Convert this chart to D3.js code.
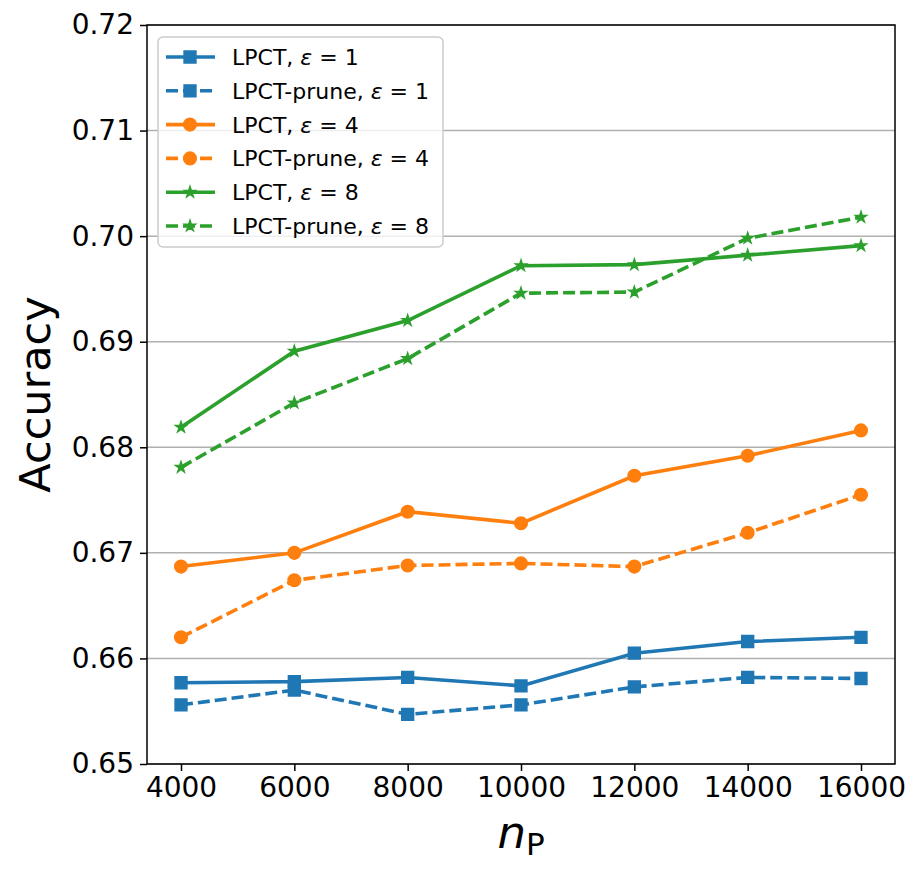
<!DOCTYPE html>
<html>
<head>
<meta charset="utf-8">
<script src="https://cdn.jsdelivr.net/npm/d3@7"></script>
<style>
  body { margin: 0; background: #fff; }
  svg { font-family: "DejaVu Sans", sans-serif; }
</style>
</head>
<body>
<div id="chart"></div>
<script>
// x values (n_P)
const nP = [4000, 6000, 8000, 10000, 12000, 14000, 16000];

// accuracy per series
const lpctEps1 = [0.6577, 0.6578, 0.6582, 0.6574, 0.6605, 0.6616, 0.6620];
const pruneEps1 = [0.6556, 0.6570, 0.6547, 0.6556, 0.6573, 0.6582, 0.6581];
const lpctEps4 = [0.6687, 0.6700, 0.6739, 0.6728, 0.6773, 0.6792, 0.6816];
const pruneEps4 = [0.6620, 0.6674, 0.6688, 0.6690, 0.6687, 0.6719, 0.6755];
const lpctEps8 = [0.6819, 0.6891, 0.6920, 0.6972, 0.6973, 0.6982, 0.6991];
const pruneEps8 = [0.6781, 0.6842, 0.6884, 0.6946, 0.6947, 0.6998, 0.7018];

const yTicks = [0.65, 0.66, 0.67, 0.68, 0.69, 0.70, 0.71, 0.72];

const series = [
    { name: 'LPCT', eps: 1, values: lpctEps1, color: '#1f77b4', dashed: false, marker: 'square' },
    { name: 'LPCT-prune', eps: 1, values: pruneEps1, color: '#1f77b4', dashed: true, marker: 'square' },
    { name: 'LPCT', eps: 4, values: lpctEps4, color: '#ff7f0e', dashed: false, marker: 'circle' },
    { name: 'LPCT-prune', eps: 4, values: pruneEps4, color: '#ff7f0e', dashed: true, marker: 'circle' },
    { name: 'LPCT', eps: 8, values: lpctEps8, color: '#2ca02c', dashed: false, marker: 'star' },
    { name: 'LPCT-prune', eps: 8, values: pruneEps8, color: '#2ca02c', dashed: true, marker: 'star' }
];

const width = 920, height = 873;
const margin = { top: 25, right: 25, bottom: 109, left: 147 };
const innerW = width - margin.left - margin.right;
const innerH = height - margin.top - margin.bottom;

const svg = d3.select('#chart').append('svg')
    .attr('width', width)
    .attr('height', height);

const g = svg.append('g')
    .attr('transform', `translate(${margin.left},${margin.top})`);

// matplotlib-style 5% padding on x
const xPad = (d3.max(nP) - d3.min(nP)) * 0.05;
const x = d3.scaleLinear()
    .domain([d3.min(nP) - xPad, d3.max(nP) + xPad])
    .range([0, innerW]);

const y = d3.scaleLinear()
    .domain([0.65, 0.72])
    .range([innerH, 0]);

// horizontal grid
g.append('g')
    .selectAll('line')
    .data(yTicks)
    .enter().append('line')
    .attr('x1', 0)
    .attr('x2', innerW)
    .attr('y1', d => y(d))
    .attr('y2', d => y(d))
    .style('stroke', '#b0b0b0')
    .style('stroke-width', '1.5px');

// axes
const xAxis = g.append('g')
    .attr('transform', `translate(0,${innerH})`)
    .call(d3.axisBottom(x).tickValues(nP).tickFormat(d3.format('d')).tickSize(7).tickPadding(6));

const yAxis = g.append('g')
    .call(d3.axisLeft(y).tickValues(yTicks).tickFormat(d3.format('.2f')).tickSize(7).tickPadding(6));

[xAxis, yAxis].forEach(ax => {
    ax.select('.domain').remove();
    ax.selectAll('.tick line').style('stroke', '#000').style('stroke-width', '1.5px');
    ax.selectAll('text')
        .style('fill', '#000')
        .style('font-size', '28px')
        .style('font-family', '"DejaVu Sans", sans-serif');
});

// frame
g.append('rect')
    .attr('width', innerW)
    .attr('height', innerH)
    .style('fill', 'none')
    .style('stroke', '#000')
    .style('stroke-width', '1.5px');

function markerPath(type) {
    if (type === 'square') return d3.symbol(d3.symbolSquare, 140)();
    if (type === 'circle') return d3.symbol(d3.symbolCircle, 125)();
    return d3.symbol(d3.symbolStar, 36)();
}

const line = d3.line()
    .x((d, i) => x(nP[i]))
    .y(d => y(d));

svg.append('defs').append('clipPath').attr('id', 'plot-clip')
    .append('rect').attr('x', -10).attr('y', -10).attr('width', innerW + 20).attr('height', innerH + 20);

series.forEach(s => {
    const sg = g.append('g').attr('clip-path', 'url(#plot-clip)');
    sg.append('path')
        .datum(s.values)
        .attr('d', line)
        .style('fill', 'none')
        .style('stroke', s.color)
        .style('stroke-width', '3.6px')
        .style('stroke-dasharray', s.dashed ? '12,5' : null);

    sg.selectAll('.marker')
        .data(s.values)
        .enter().append('path')
        .attr('class', 'marker')
        .attr('transform', (d, i) => `translate(${x(nP[i])},${y(d)})`)
        .attr('d', markerPath(s.marker))
        .style('fill', s.color)
        .style('stroke', s.color)
        .style('stroke-width', '1.5px');
});

// legend
const legend = svg.append('g').attr('transform', 'translate(158,37)');
legend.append('rect')
    .attr('width', 285)
    .attr('height', 210)
    .attr('rx', 5)
    .style('fill', '#fff')
    .style('fill-opacity', 0.8)
    .style('stroke', '#cccccc')
    .style('stroke-width', '1.5px');

series.forEach((s, i) => {
    const row = legend.append('g').attr('transform', `translate(0,${20 + i * 33.8})`);
    row.append('line')
        .attr('x1', 8).attr('x2', 57)
        .attr('y1', 0).attr('y2', 0)
        .style('stroke', s.color)
        .style('stroke-width', '3.6px')
        .style('stroke-dasharray', s.dashed ? '12,5' : null);
    row.append('path')
        .attr('transform', 'translate(32,0)')
        .attr('d', markerPath(s.marker))
        .style('fill', s.color)
        .style('stroke', s.color)
        .style('stroke-width', '1.5px');
    const t = row.append('text')
        .attr('x', 74)
        .attr('y', 8)
        .style('font-size', '22px')
        .style('fill', '#000');
    t.append('tspan').text(`${s.name}, `);
    t.append('tspan').style('font-style', 'italic').text('ε');
    t.append('tspan').text(` = ${s.eps}`);
});

// axis titles
svg.append('text')
    .attr('transform', `translate(50,${margin.top + innerH / 2}) rotate(-90)`)
    .attr('text-anchor', 'middle')
    .style('font-size', '43px')
    .style('fill', '#000')
    .text('Accuracy');

const xl = svg.append('text')
    .attr('x', margin.left + innerW / 2)
    .attr('y', 848)
    .attr('text-anchor', 'middle')
    .style('fill', '#000');
xl.append('tspan').style('font-size', '45px').style('font-style', 'italic').text('n');
xl.append('tspan').style('font-size', '31px').attr('dy', 7).text('P');
</script>
</body>
</html>
